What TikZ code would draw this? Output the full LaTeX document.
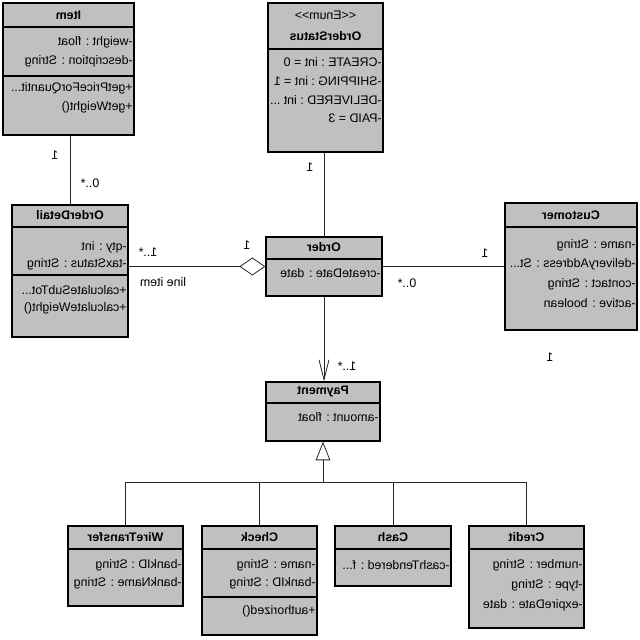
\documentclass[tikz,border=0pt]{standalone}
\usepackage{fontspec}
\setmainfont{Liberation Sans}
\usetikzlibrary{arrows.meta,fit}
\definecolor{boxgray}{RGB}{192,192,192}
\newcommand{\umlfont}{\fontsize{9.3}{11}\selectfont}

\begin{document}
\begin{tikzpicture}[x=0.75pt,y=-0.75pt,
  flip/.style={xscale=-1},
  cls/.style={draw,line width=0.9pt,fill=boxgray,inner sep=0pt},
  sep/.style={line width=0.9pt},
  ttl/.style={flip,font=\umlfont\bfseries,inner sep=0pt},
  mbr/.style={flip,anchor=west,font=\umlfont,inner xsep=1.2pt,inner ysep=0pt},
  mult/.style={flip,font=\umlfont,inner sep=0pt},
  link/.style={line width=0.6pt,draw=black!85}]
\useasboundingbox (0,0) rectangle (640,640);
% class boxes
\node[cls,fit={(3,3) (134,135)}] (item) {};
\node[cls,fit={(268,3) (383,152)}] (ostatus) {};
\node[cls,fit={(12,205) (128,337)}] (odetail) {};
\node[cls,fit={(266,237) (382,296)}] (order) {};
\node[cls,fit={(505,203) (637,330)}] (customer) {};
\node[cls,fit={(266,382) (380,441)}] (payment) {};
\node[cls,fit={(68,526) (183,606)}] (wire) {};
\node[cls,fit={(202,526) (317,635)}] (check) {};
\node[cls,fit={(335,526) (451,586)}] (cash) {};
\node[cls,fit={(469,526) (584,628)}] (credit) {};
% compartments
\draw[sep] (item.west |- 0,27) -- (item.east |- 0,27);
\draw[sep] (item.west |- 0,76) -- (item.east |- 0,76);
\draw[sep] (ostatus.west |- 0,49) -- (ostatus.east |- 0,49);
\draw[sep] (odetail.west |- 0,227) -- (odetail.east |- 0,227);
\draw[sep] (odetail.west |- 0,275) -- (odetail.east |- 0,275);
\draw[sep] (order.west |- 0,259) -- (order.east |- 0,259);
\draw[sep] (customer.west |- 0,227) -- (customer.east |- 0,227);
\draw[sep] (payment.west |- 0,403) -- (payment.east |- 0,403);
\draw[sep] (wire.west |- 0,549) -- (wire.east |- 0,549);
\draw[sep] (check.west |- 0,549) -- (check.east |- 0,549);
\draw[sep] (check.west |- 0,597) -- (check.east |- 0,597);
\draw[sep] (cash.west |- 0,549) -- (cash.east |- 0,549);
\draw[sep] (credit.west |- 0,549) -- (credit.east |- 0,549);
% titles
\node[ttl] (item-t) at (item.north |- 0,15) {Item};
\node[mult] (ostatus-s) at (ostatus.north |- 0,15) {<\kern0pt<Enum>\kern0pt>};
\node[ttl] (ostatus-t) at (ostatus.north |- 0,36) {OrderStatus};
\node[ttl] (odetail-t) at (odetail.north |- 0,215) {OrderDetail};
\node[ttl] (order-t) at (order.north |- 0,247) {Order};
\node[ttl] (customer-t) at (customer.north |- 0,215) {Customer};
\node[ttl] (payment-t) at (payment.north |- 0,392) {Payment};
\node[ttl] (wire-t) at (wire.north |- 0,537) {WireTransfer};
\node[ttl] (check-t) at (check.north |- 0,537) {Check};
\node[ttl] (cash-t) at (cash.north |- 0,537) {Cash};
\node[ttl] (credit-t) at (credit.north |- 0,537) {Credit};
% members
\node[mbr] (item-a1) at (item.east |- 0,42) {-weight : float};
\node[mbr] (item-a2) at (item.east |- 0,61) {-description : String};
\node[mbr] (item-o1) at (item.east |- 0,88) {+getPriceForQuantit...};
\node[mbr] (item-o2) at (item.east |- 0,107) {+getWeight()};
\node[mbr] (ostatus-a1) at (ostatus.east |- 0,62) {-CREATE : int = 0};
\node[mbr] (ostatus-a2) at (ostatus.east |- 0,81) {-SHIPPING : int = 1};
\node[mbr] (ostatus-a3) at (ostatus.east |- 0,100) {-DELIVERED : int ...};
\node[mbr] (ostatus-a4) at (ostatus.east |- 0,118) {-PAID = 3};
\node[mbr] (odetail-a1) at (odetail.east |- 0,247) {-qty : int};
\node[mbr] (odetail-a2) at (odetail.east |- 0,264) {-taxStatus : String};
\node[mbr] (odetail-o1) at (odetail.east |- 0,290) {+calculateSubTot...};
\node[mbr] (odetail-o2) at (odetail.east |- 0,308) {+calculateWeight()};
\node[mbr] (order-a1) at (order.east |- 0,273) {-createDate : date};
\node[mbr] (customer-a1) at (customer.east |- 0,245) {-name : String};
\node[mbr] (customer-a2) at (customer.east |- 0,264) {-deliveryAddress : St...};
\node[mbr] (customer-a3) at (customer.east |- 0,284) {-contact : String};
\node[mbr] (customer-a4) at (customer.east |- 0,303) {-active : boolean};
\node[mbr] (payment-a1) at (payment.east |- 0,417) {-amount : float};
\node[mbr] (wire-a1) at (wire.east |- 0,565) {-bankID : String};
\node[mbr] (wire-a2) at (wire.east |- 0,583) {-bankName : String};
\node[mbr] (check-a1) at (check.east |- 0,565) {-name : String};
\node[mbr] (check-a2) at (check.east |- 0,583) {-bankID : String};
\node[mbr] (check-o1) at (check.east |- 0,611) {+authorized()};
\node[mbr] (cash-a1) at (cash.east |- 0,565) {-cashTendered : f...};
\node[mbr] (credit-a1) at (credit.east |- 0,565) {-number : String};
\node[mbr] (credit-a2) at (credit.east |- 0,585) {-type : String};
\node[mbr] (credit-a3) at (credit.east |- 0,605) {-expireDate : date};
% associations
\draw[link] (odetail.north) -- (odetail.north |- item.south);
\draw[link] (ostatus.south -| order.north) -- (order.north);
\draw[link,-{Diamond[open,length=19.5pt,width=13.5pt]}] (odetail.east |- order.west) -- (order.west);
\draw[link] (order.east) -- (order.east -| customer.west);
\draw[link,-{Straight Barb[length=15pt,width=7.5pt]}] (order.south) -- (order.south |- payment.north);
% generalization
\coordinate (bus) at (payment.south |- 0,482);
\draw[link,-{Triangle[open,length=14pt,width=11pt]}] (bus) -- (bus |- payment.south);
\draw[link] (wire.north) -- (wire.north |- bus) -- (credit.north |- bus) -- (credit.north);
\draw[link] (check.north) -- (check.north |- bus);
\draw[link] (cash.north) -- (cash.north |- bus);
% multiplicities
\node[mult] (m1) at (55,155) {1};
\node[mult] (m2) at (90,183) {0..*};
\node[mult] (m3) at (310,167) {1};
\node[mult] (m4) at (247,245) {1};
\node[mult] (m5) at (148,252) {1..*};
\node[mult] (m6) at (163,282) {line item};
\node[mult] (m7) at (407,283) {0..*};
\node[mult] (m8) at (485,253) {1};
\node[mult] (m9) at (550,357) {1};
\node[mult] (m10) at (347,366) {1..*};
\end{tikzpicture}
\end{document}
